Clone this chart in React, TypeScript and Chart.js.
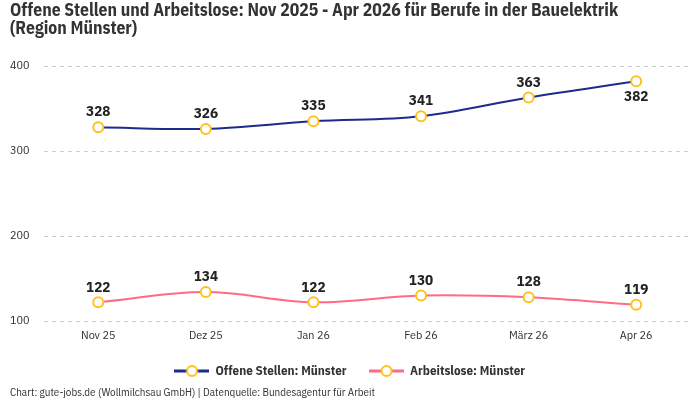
import React, { useEffect, useRef } from 'react';
import { Chart, registerables } from 'chart.js';
import type { Plugin } from 'chart.js';

Chart.register(...registerables);

// chart data
const months = ['Nov 25', 'Dez 25', 'Jan 26', 'Feb 26', 'März 26', 'Apr 26'];
const offeneStellen = [328, 326, 335, 341, 363, 382];
const arbeitslose = [122, 134, 122, 130, 128, 119];
// where the value label sits relative to its point
const offeneLabelPos = ['top', 'top', 'top', 'top', 'top', 'bottom'];
const arbeitsloseLabelPos = ['top', 'top', 'top', 'top', 'top', 'top'];
const yTicks = [100, 200, 300, 400];

const FONT = '"IBM Plex Sans Condensed", "Liberation Sans Narrow", "DejaVu Sans Condensed", Roboto, sans-serif';
const BLUE = '#1d2b8c';
const PINK = '#ff6b84';
const YELLOW = '#ffc21a';
const TEXT = '#333333';

// legend marker: line with a hollow circle in the middle
const makeLegendMarker = (color: string): HTMLCanvasElement => {
  const c = document.createElement('canvas');
  c.width = 35;
  c.height = 14;
  const ctx = c.getContext('2d');
  if (ctx) {
    ctx.strokeStyle = color;
    ctx.lineWidth = 3;
    ctx.beginPath();
    ctx.moveTo(0, 7);
    ctx.lineTo(35, 7);
    ctx.stroke();
    ctx.beginPath();
    ctx.arc(17.5, 7, 5, 0, Math.PI * 2);
    ctx.fillStyle = '#fff';
    ctx.fill();
    ctx.lineWidth = 2;
    ctx.strokeStyle = YELLOW;
    ctx.stroke();
  }
  return c;
};

// draws the value next to every point
const valueLabelPlugin: Plugin<'line'> = {
  id: 'valueLabelPlugin',
  afterDatasetsDraw: (chart) => {
    const { ctx } = chart;
    const positions = [offeneLabelPos, arbeitsloseLabelPos];
    ctx.save();
    ctx.font = `bold 15px ${FONT}`;
    ctx.fillStyle = '#222';
    ctx.textAlign = 'center';
    ctx.textBaseline = 'middle';
    chart.data.datasets.forEach((ds, di) => {
      const meta = chart.getDatasetMeta(di);
      meta.data.forEach((pt, i) => {
        const below = positions[di][i] === 'bottom';
        ctx.fillText(String(ds.data[i]), pt.x, below ? pt.y + 15 : pt.y - 15);
      });
    });
    ctx.restore();
  }
};

const App: React.FC = () => {
  const chartRef = useRef<HTMLCanvasElement>(null);
  const chartInstance = useRef<Chart | null>(null);

  useEffect(() => {
    if (!chartRef.current) return;
    const ctx = chartRef.current.getContext('2d');
    if (!ctx) return;
    if (chartInstance.current) chartInstance.current.destroy();

    const markers = [makeLegendMarker(BLUE), makeLegendMarker(PINK)];

    chartInstance.current = new Chart(ctx, {
      type: 'line',
      data: {
        labels: months,
        datasets: [
          {
            label: 'Offene Stellen: Münster',
            data: offeneStellen,
            borderColor: BLUE,
            backgroundColor: BLUE,
            borderWidth: 2,
            tension: 0.35,
            pointRadius: 5,
            pointBorderWidth: 2,
            pointBorderColor: YELLOW,
            pointBackgroundColor: '#fff',
          },
          {
            label: 'Arbeitslose: Münster',
            data: arbeitslose,
            borderColor: PINK,
            backgroundColor: PINK,
            borderWidth: 2,
            tension: 0.35,
            pointRadius: 5,
            pointBorderWidth: 2,
            pointBorderColor: YELLOW,
            pointBackgroundColor: '#fff',
          },
        ],
      },
      options: {
        animation: false,
        responsive: true,
        maintainAspectRatio: false,
        layout: { padding: { left: 10, right: 10, top: 0, bottom: 1.5 } },
        scales: {
          x: {
            offset: true,
            grid: { display: false, drawTicks: false },
            border: { display: false },
            ticks: { color: TEXT, font: { family: FONT, size: 12 }, padding: 7 },
            // keep the axis band short so the legend sits close below the labels
            afterFit: (scale) => {
              scale.height = 20.5;
            },
          },
          y: {
            min: 100,
            max: 400,
            afterBuildTicks: (axis) => {
              axis.ticks = yTicks.map(v => ({ value: v }));
            },
            grid: { color: '#cccccc', drawTicks: false },
            border: { display: false, dash: [4, 4] },
            ticks: {
              color: TEXT,
              font: { family: FONT, size: 12 },
              padding: 7.5,
              crossAlign: 'far',
            },
          },
        },
        plugins: {
          title: {
            display: true,
            text: [
              'Offene Stellen und Arbeitslose: Nov 2025 - Apr 2026 für Berufe in der Bauelektrik',
              '(Region Münster)',
            ],
            align: 'start',
            color: TEXT,
            font: { family: FONT, size: 17.6, weight: 'bold', lineHeight: '18px' },
            padding: { top: 2, bottom: 28 },
          },
          subtitle: {
            display: true,
            position: 'bottom',
            align: 'start',
            text: 'Chart: gute-jobs.de (Wollmilchsau GmbH) | Datenquelle: Bundesagentur für Arbeit',
            color: TEXT,
            font: { family: FONT, size: 11, lineHeight: 1.0 },
            padding: { top: 0, bottom: 0 },
          },
          legend: {
            position: 'bottom',
            labels: {
              usePointStyle: true,
              pointStyleWidth: 34,
              padding: 23,
              color: TEXT,
              font: { family: FONT, size: 13, weight: 'bold' },
              generateLabels: (chart) => {
                const items = Chart.defaults.plugins.legend.labels.generateLabels(chart);
                return items.map((item, i) => ({ ...item, pointStyle: markers[i] }));
              },
            },
          },
          tooltip: { enabled: false },
        },
      },
      plugins: [valueLabelPlugin],
    });

    return () => {
      if (chartInstance.current) {
        chartInstance.current.destroy();
        chartInstance.current = null;
      }
    };
  }, []);

  return (
    <div style={{ position: 'absolute', left: 0, top: 0, width: 700, height: 400, background: '#fff' }}>
      <canvas ref={chartRef} />
    </div>
  );
};

export default App;
